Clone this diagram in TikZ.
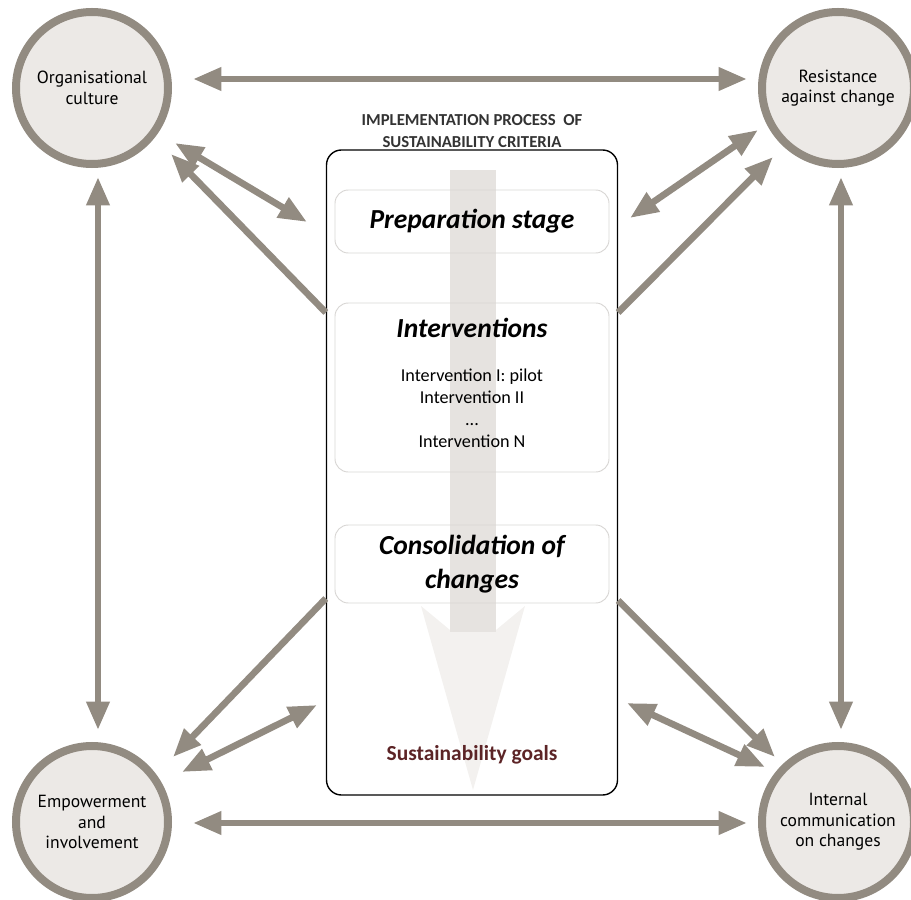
\documentclass[tikz,border=0pt]{standalone}
\usepackage{fontspec}
\setmainfont{Carlito}
\newfontfamily\circfont{PT Sans}
\usepackage{tikz}
\usetikzlibrary{arrows.meta,calc,positioning}
\definecolor{linkgray}{RGB}{146,139,129}
\definecolor{circfill}{RGB}{236,233,230}
\definecolor{boxline}{RGB}{216,214,212}
\definecolor{flowgray}{RGB}{230,227,224}
\definecolor{headgray}{RGB}{243,241,239}
\definecolor{goalbrown}{RGB}{92,36,38}

\begin{document}
\begin{tikzpicture}[x=0.03cm, y=-0.03cm, >={Triangle[length=0.85cm,width=0.66cm]},
    factor/.style = {circle, draw=linkgray, fill=circfill, line width=0.24cm, minimum size=4.56cm,
        inner sep=0pt, align=center, font=\circfont\fontsize{15}{17.5}\selectfont},
    phase/.style = {draw=boxline, line width=0.8pt, rounded corners=0.4cm, minimum width=8.22cm},
    phasetext/.style = {align=center, font=\fontsize{23.5}{29}\selectfont\bfseries\itshape},
    link/.style = {draw=linkgray, line width=0.2cm, ->},
    both/.style = {link, <->}]
    \useasboundingbox (0,0) rectangle (911,900);

    % flow arrow behind the stages
    \fill[headgray] (473,790) -- (421,606) -- (450,630) -- (496,630) -- (525,606) -- cycle;
    \fill[flowgray] (450,170) rectangle (496,632);

    % process box
    \node[draw, line width=1.2pt, rounded corners=0.45cm, minimum width=8.73cm, minimum height=19.35cm] (proc) at (472,472.5) {};
    \node[align=center, text=black!80, font=\fontsize{14.3}{19}\selectfont\bfseries] (title) at (472,131)
        {IMPLEMENTATION PROCESS \ OF\\SUSTAINABILITY CRITERIA};

    \node[phase, minimum height=1.89cm] (prep) at (472,221.5) {};
    \node[phasetext] (preptext) at (prep) {Preparation stage};
    \node[phase, minimum height=5.07cm] (intv) at (472,387.5) {};
    \node[phasetext] (intvtext) at (472,328) {Interventions};
    \node[align=center, font=\fontsize{15.5}{18.8}\selectfont] (intvlist) at (472,408)
        {Intervention I: pilot\\Intervention II\\...\\Intervention N};
    \node[phase, minimum height=2.34cm] (cons) at (472,564) {};
    \node[phasetext] (constext) at (cons) {Consolidation of\\changes};
    \node[text=goalbrown, font=\fontsize{18.3}{22}\selectfont\bfseries] (goals) at (472,755) {Sustainability goals};

    % factors
    \node[factor] (oc) at (92,88) {Organisational\\culture};
    \node[factor] (rc) at (838,88) {Resistance\\against change};
    \node[factor] (ei) at (92,822) {Empowerment\\and\\involvement};
    \node[factor] (ic) at (838,822) {Internal\\communication\\on changes};

    \draw[both] ([shift={(21,-9)}]oc.east) -- ([shift={(-11,-9)}]rc.west);
    \draw[both] ([shift={(21,1)}]ei.east) -- ([shift={(-11,1)}]ic.west);
    \draw[both] ([shift={(6,9)}]oc.south) -- ([shift={(6,-12)}]ei.north);
    \draw[both] ([shift={(3,9)}]rc.south) -- ([shift={(3,-12)}]ic.north);

    % diagonal links
    \coordinate (tlA) at (175,143); \coordinate (tlB) at (307,222);
    \coordinate (trA) at (630,218); \coordinate (trB) at (758,130);
    \coordinate (blA) at (182,772); \coordinate (blB) at (317,705);
    \coordinate (brA) at (627,703); \coordinate (brB) at (765,767);
    \foreach \p/\q in {tlA/tlB, trA/trB, blA/blB, brA/brB}
        \draw[both] (\p) -- (\q);
    \coordinate (tlC) at (171,154); \coordinate (trC) at (773,157);
    \coordinate (blC) at (173,757); \coordinate (brC) at (775,757);
    \draw[link] ([shift={(0,-160)}]proc.west) -- (tlC);
    \draw[link] ([shift={(0,-160)}]proc.east) -- (trC);
    \draw[link] ([shift={(0,126)}]proc.west) -- (blC);
    \draw[link] ([shift={(0,128)}]proc.east) -- (brC);
\end{tikzpicture}
\end{document}
